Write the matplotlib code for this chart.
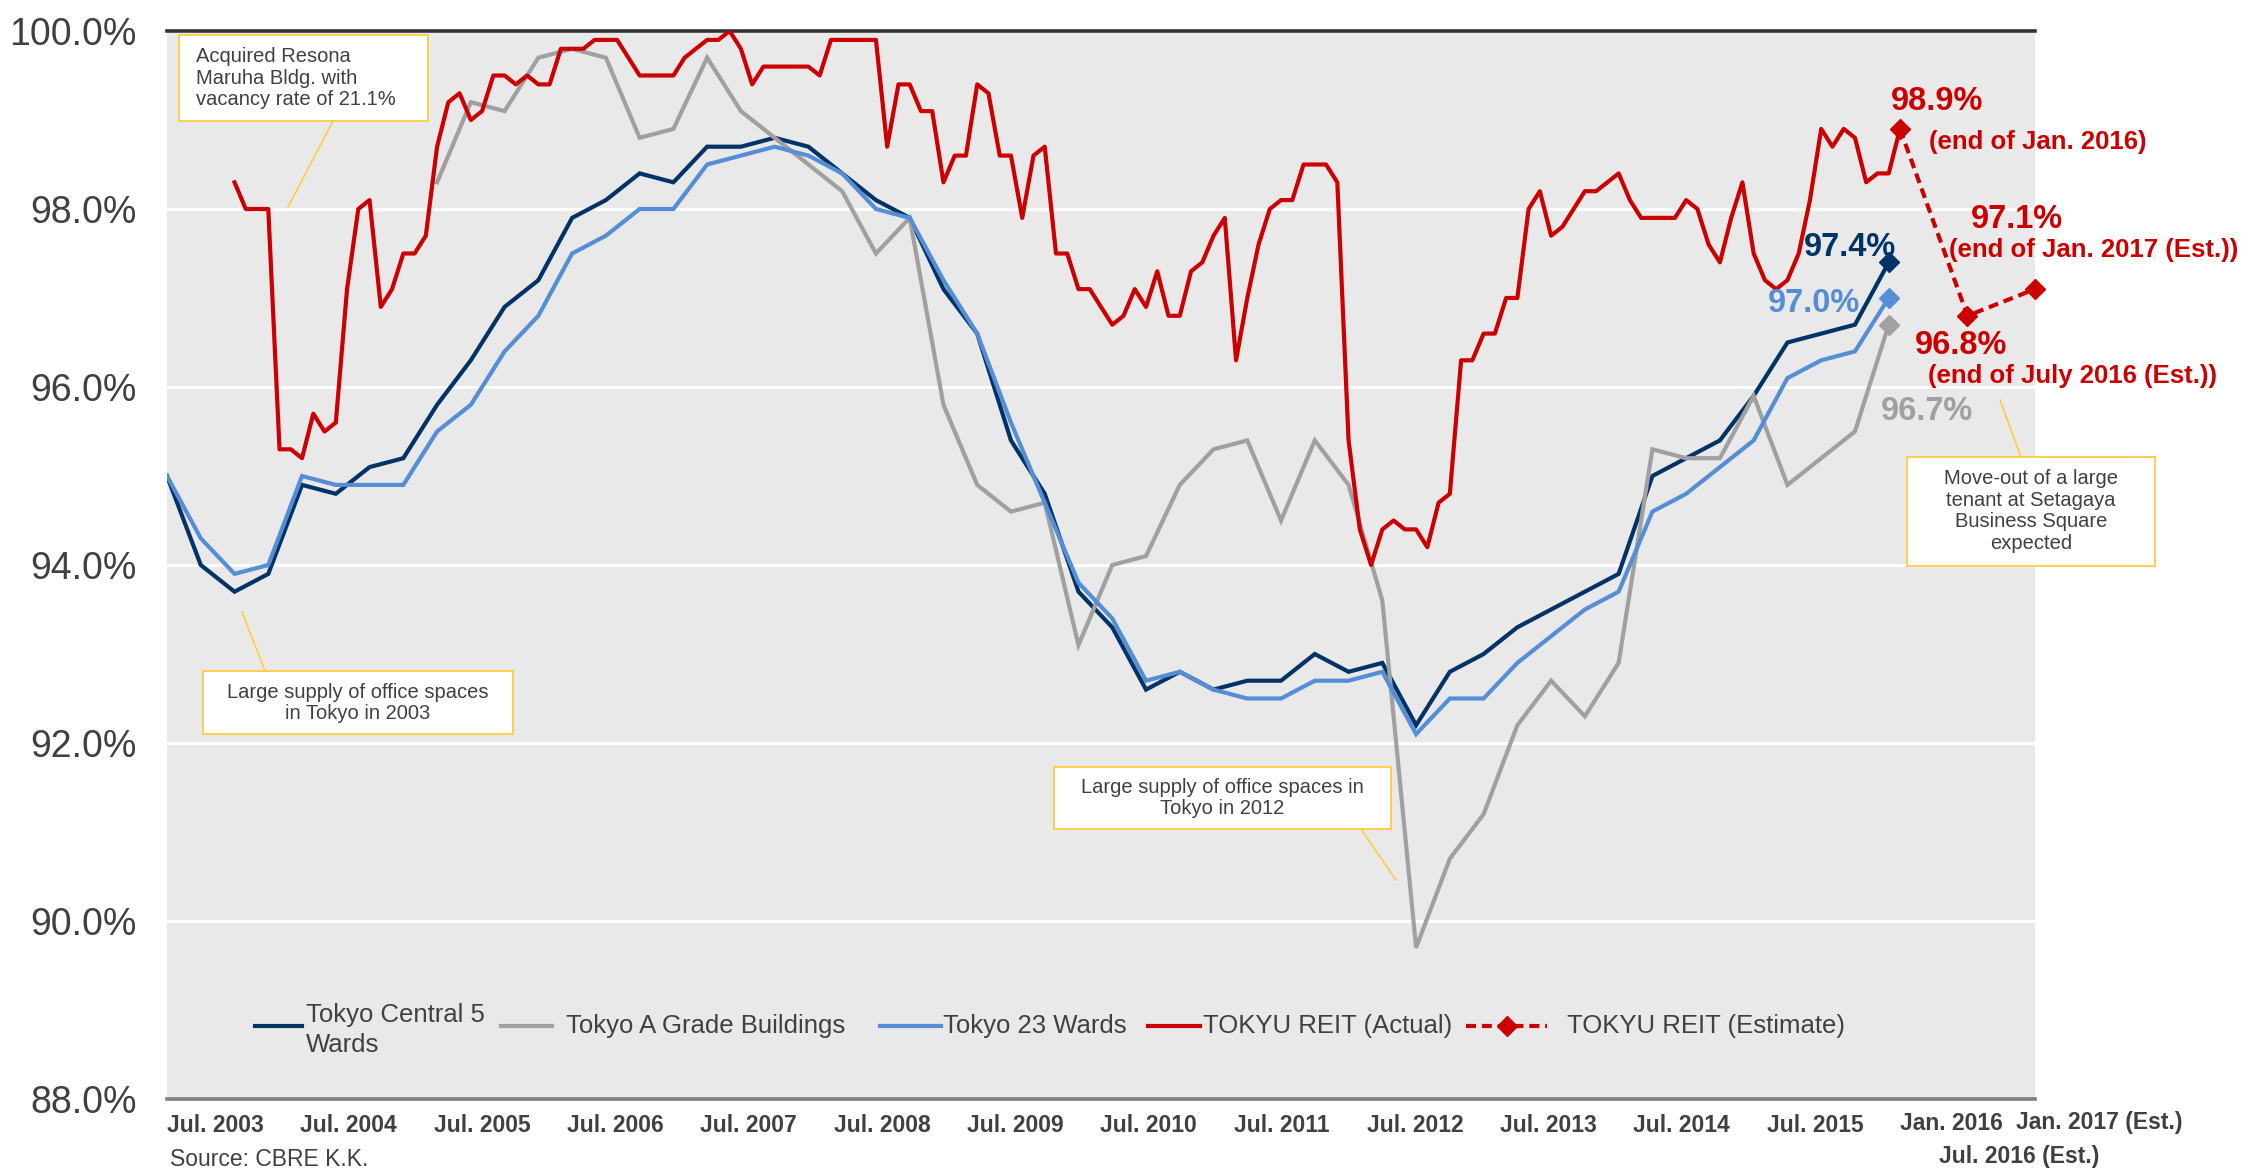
import matplotlib
matplotlib.use("Agg")
import matplotlib.pyplot as plt
from matplotlib.lines import Line2D
from matplotlib.patches import Rectangle

plt.rcParams['font.family'] = ['Liberation Sans', 'DejaVu Sans']

# ---------------- data (months counted from Jan. 2003 = 0) ----------------
# CBRE benchmark series, quarterly: Mar. 2003 (month 2) ... Dec. 2015 (month 155)
bench_months = list(range(2, 156, 3))
central5 = [95.0, 94.0, 93.7, 93.9, 94.9, 94.8, 95.1, 95.2, 95.8, 96.3,
            96.9, 97.2, 97.9, 98.1, 98.4, 98.3, 98.7, 98.7, 98.8, 98.7,
            98.4, 98.1, 97.9, 97.1, 96.6, 95.4, 94.8, 93.7, 93.3, 92.6,
            92.8, 92.6, 92.7, 92.7, 93.0, 92.8, 92.9, 92.2, 92.8, 93.0,
            93.3, 93.5, 93.7, 93.9, 95.0, 95.2, 95.4, 95.9, 96.5, 96.6,
            96.7, 97.4]
wards23 = [95.0, 94.3, 93.9, 94.0, 95.0, 94.9, 94.9, 94.9, 95.5, 95.8,
           96.4, 96.8, 97.5, 97.7, 98.0, 98.0, 98.5, 98.6, 98.7, 98.6,
           98.4, 98.0, 97.9, 97.2, 96.6, 95.6, 94.7, 93.8, 93.4, 92.7,
           92.8, 92.6, 92.5, 92.5, 92.7, 92.7, 92.8, 92.1, 92.5, 92.5,
           92.9, 93.2, 93.5, 93.7, 94.6, 94.8, 95.1, 95.4, 96.1, 96.3,
           96.4, 97.0]
a_grade_months = list(range(26, 156, 3))   # from Mar. 2005
a_grade = [98.3, 99.2, 99.1, 99.7, 99.8, 99.7, 98.8, 98.9, 99.7, 99.1,
           98.8, 98.5, 98.2, 97.5, 97.9, 95.8, 94.9, 94.6, 94.7, 93.1,
           94.0, 94.1, 94.9, 95.3, 95.4, 94.5, 95.4, 94.9, 93.6, 89.7,
           90.7, 91.2, 92.2, 92.7, 92.3, 92.9, 95.3, 95.2, 95.2, 95.9,
           94.9, 95.2, 95.5, 96.7]
# TOKYU REIT actual, monthly: Sep. 2003 (month 8) ... Jan. 2016 (month 156)
reit_months = list(range(8, 157))
reit_actual = [98.3, 98.0, 98.0, 98.0, 95.3, 95.3, 95.2, 95.7, 95.5, 95.6,
               97.1, 98.0, 98.1, 96.9, 97.1, 97.5, 97.5, 97.7, 98.7, 99.2,
               99.3, 99.0, 99.1, 99.5, 99.5, 99.4, 99.5, 99.4, 99.4, 99.8,
               99.8, 99.8, 99.9, 99.9, 99.9, 99.7, 99.5, 99.5, 99.5, 99.5,
               99.7, 99.8, 99.9, 99.9, 100.0, 99.8, 99.4, 99.6, 99.6, 99.6,
               99.6, 99.6, 99.5, 99.9, 99.9, 99.9, 99.9, 99.9, 98.7, 99.4,
               99.4, 99.1, 99.1, 98.3, 98.6, 98.6, 99.4, 99.3, 98.6, 98.6,
               97.9, 98.6, 98.7, 97.5, 97.5, 97.1, 97.1, 96.9, 96.7, 96.8,
               97.1, 96.9, 97.3, 96.8, 96.8, 97.3, 97.4, 97.7, 97.9, 96.3,
               97.0, 97.6, 98.0, 98.1, 98.1, 98.5, 98.5, 98.5, 98.3, 95.4,
               94.4, 94.0, 94.4, 94.5, 94.4, 94.4, 94.2, 94.7, 94.8, 96.3,
               96.3, 96.6, 96.6, 97.0, 97.0, 98.0, 98.2, 97.7, 97.8, 98.0,
               98.2, 98.2, 98.3, 98.4, 98.1, 97.9, 97.9, 97.9, 97.9, 98.1,
               98.0, 97.6, 97.4, 97.9, 98.3, 97.5, 97.2, 97.1, 97.2, 97.5,
               98.1, 98.9, 98.7, 98.9, 98.8, 98.3, 98.4, 98.4, 98.9]
# TOKYU REIT estimate: Jan. 2016, Jul. 2016 (Est.), Jan. 2017 (Est.)
est_months = [156, 162, 168]
est_values = [98.9, 96.8, 97.1]

series_names = ["Tokyo Central 5\nWards", "Tokyo A Grade Buildings", "Tokyo 23 Wards",
                "TOKYU REIT (Actual)", "TOKYU REIT (Estimate)"]
x_labels = ["Jul. 2003", "Jul. 2004", "Jul. 2005", "Jul. 2006", "Jul. 2007", "Jul. 2008",
            "Jul. 2009", "Jul. 2010", "Jul. 2011", "Jul. 2012", "Jul. 2013", "Jul. 2014",
            "Jul. 2015"]
x_labels_end = ["Jan. 2016", "Jul. 2016 (Est.)", "Jan. 2017 (Est.)"]
y_ticks = [88, 90, 92, 94, 96, 98, 100]

# ---------------- style ----------------
W, H, DPI = 2241, 1168, 100
NAVY, GREY, LBLUE, RED = '#003366', '#A0A0A0', '#558ED5', '#CC0000'
TXT = '#404040'
GOLD = '#FFCC40'
BG = '#E9E9E9'
LW = 3.0


def fxy(x, y):
    return x / W, 1 - y / H


fig = plt.figure(figsize=(W / DPI, H / DPI), dpi=DPI)
ax = fig.add_axes([167 / W, 1 - 1099 / H, (2035 - 167) / W, (1099 - 31) / H])
ax.set_facecolor(BG)
ax.set_xlim(2, 168)
ax.set_ylim(88, 100)

ax.set_yticks(y_ticks)
ax.set_yticklabels([f"{v:.1f}%" for v in y_ticks], fontsize=27, color=TXT)
ax.tick_params(axis='y', length=0, pad=22)
ax.set_xticks([])
ax.yaxis.grid(True, color='white', lw=2.2)
ax.set_axisbelow(True)
for s in ['left', 'right']:
    ax.spines[s].set_visible(False)
ax.spines['top'].set_color('#333333')
ax.spines['top'].set_linewidth(2.6)
ax.spines['bottom'].set_color('#7F7F7F')
ax.spines['bottom'].set_linewidth(2.6)

dkw = dict(marker='D', markevery=[-1], markersize=10, solid_joinstyle='miter')
ax.plot(bench_months, central5, color=NAVY, lw=LW, zorder=3, **dkw)
ax.plot(a_grade_months, a_grade, color=GREY, lw=LW, zorder=3, **dkw)
ax.plot(bench_months, wards23, color=LBLUE, lw=LW, zorder=3, **dkw)
ax.plot(reit_months, reit_actual, color=RED, lw=LW, zorder=4)
ax.plot(est_months, est_values, color=RED, lw=LW, ls=(0, (2.4, 1.4)), marker='D',
        markersize=10, zorder=5, clip_on=False)

# ---------------- x labels ----------------
for k, lab in enumerate(x_labels):
    x = 215.4 + 133.3 * k
    fig.text(*fxy(x, 1125), lab, ha='center', va='center', fontsize=16.5,
             fontweight='bold', color=TXT)
fig.text(*fxy(1951, 1123), x_labels_end[0], ha='center', va='center', fontsize=16.5,
         fontweight='bold', color=TXT)
fig.text(*fxy(2019, 1157), x_labels_end[1], ha='center', va='center', fontsize=16.5,
         fontweight='bold', color=TXT)
fig.text(*fxy(2099, 1123), x_labels_end[2], ha='center', va='center', fontsize=16.5,
         fontweight='bold', color=TXT)
fig.text(*fxy(170, 1160), "Source: CBRE K.K.", ha='left', va='center', fontsize=16.5,
         color=TXT)

# ---------------- legend (manual) ----------------
ly = 1026
leg = [((255, 302), 306, NAVY, series_names[0], False),
       ((501, 552), 566, GREY, series_names[1], False),
       ((880, 941), 943, LBLUE, series_names[2], False),
       ((1148, 1200), 1203, RED, series_names[3], False),
       ((1466, 1547), 1567, RED, series_names[4], True)]
for (x0, x1), tx, col, name, est in leg:
    (a, b), (c, d) = fxy(x0, ly), fxy(x1, ly)
    if est:
        fig.add_artist(Line2D([a, c], [b, d], color=col, lw=LW, ls=(0, (2.4, 1.4)),
                              transform=fig.transFigure))
        fig.add_artist(Line2D([(a + c) / 2], [b], color=col, marker='D', markersize=10,
                              transform=fig.transFigure))
    else:
        fig.add_artist(Line2D([a, c], [b, d], color=col, lw=LW, transform=fig.transFigure))
    fig.text(*fxy(tx, 1030 if '\n' in name else ly), name, ha='left', va='center',
             fontsize=18.5, color=TXT, linespacing=1.3)

# ---------------- value labels ----------------
def vlabel(x, y, s, col, size):
    fig.text(*fxy(x, y), s, ha='left', va='center', fontsize=size, fontweight='bold',
             color=col, zorder=7)

vlabel(1891, 102, "98.9%", RED, 23.5)
vlabel(1929, 142, "(end of Jan. 2016)", RED, 18.5)
vlabel(1971, 220, "97.1%", RED, 23.5)
vlabel(1949, 250, "(end of Jan. 2017 (Est.))", RED, 18.5)
vlabel(1915, 346, "96.8%", RED, 23.5)
vlabel(1928, 376, "(end of July 2016 (Est.))", RED, 18.5)
vlabel(1804, 247, "97.4%", NAVY, 23.5)
vlabel(1768, 304, "97.0%", LBLUE, 23.5)
vlabel(1881, 412, "96.7%", '#A0A0A0', 23.5)

# ---------------- annotation boxes ----------------
def box(x0, y0, x1, y1, text, tx, ty, ha, leader):
    (a, b) = fxy(x0, y1)
    fig.add_artist(Rectangle((a, b), (x1 - x0) / W, (y1 - y0) / H, transform=fig.transFigure,
                             facecolor='white', edgecolor=GOLD, lw=1.3, zorder=5))
    (p, q), (r, s) = fxy(*leader[0]), fxy(*leader[1])
    fig.add_artist(Line2D([p, r], [q, s], color=GOLD, lw=1.2, transform=fig.transFigure,
                          zorder=5))
    fig.text(*fxy(tx, ty), text, ha=ha, va='center', fontsize=14.5, color=TXT,
             linespacing=1.16, multialignment=ha, zorder=6)

box(179, 35, 428, 121, "Acquired Resona\nMaruha Bldg. with\nvacancy rate of 21.1%",
    196, 78, 'left', ((333, 121), (288, 207)))
box(203, 671, 513, 734, "Large supply of office spaces\nin Tokyo in 2003",
    358, 703, 'center', ((242, 612), (265, 671)))
box(1054, 767, 1391, 829, "Large supply of office spaces in\nTokyo in 2012",
    1222, 798, 'center', ((1361, 829), (1396, 880)))
box(1907, 457, 2155, 566, "Move-out of a large\ntenant at Setagaya\nBusiness Square\nexpected",
    2031, 511, 'center', ((2000, 400), (2021, 457)))

fig.savefig("out.png", dpi=DPI)
